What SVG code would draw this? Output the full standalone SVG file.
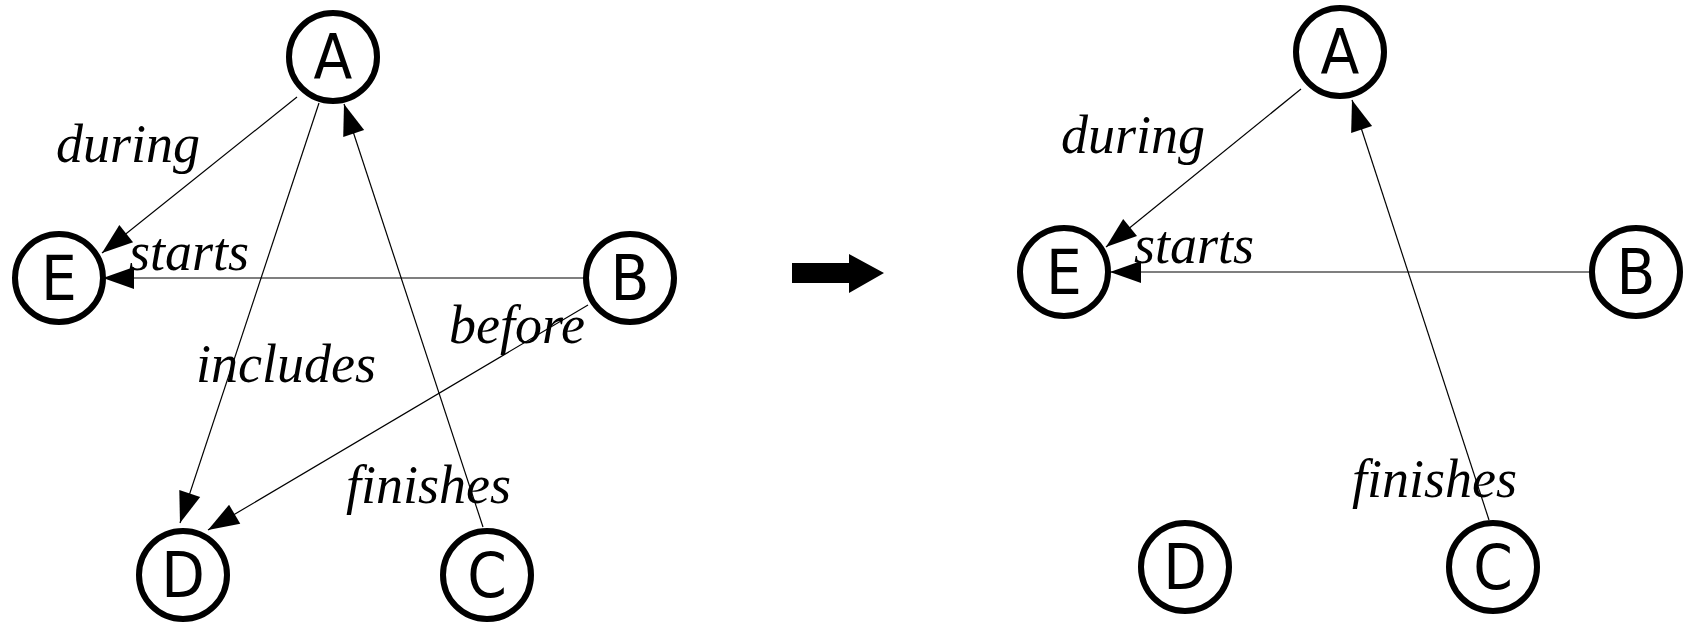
<svg xmlns="http://www.w3.org/2000/svg" width="1690" height="623" viewBox="0 0 1690 623">
<style>
.node circle{fill:#fff;stroke:#000;stroke-width:6}
.node text{font-family:"DejaVu Sans Condensed","DejaVu Sans",sans-serif;font-stretch:condensed;font-size:63px;text-anchor:middle;fill:#000}
.edge{stroke:#000;stroke-width:1.2;fill:none;marker-end:url(#ah)}
.lbl{font-family:"Liberation Serif",serif;font-style:italic;font-size:54px;fill:#000}
</style>
<defs>
<marker id="ah" markerUnits="userSpaceOnUse" markerWidth="34" markerHeight="24" refX="31" refY="11" orient="auto" overflow="visible">
<path d="M0,0 L31,11 L0,22 Z" fill="#000"/>
</marker>
</defs>
<rect width="1690" height="623" fill="#fff"/>
<g id="connectors">
<line class="edge" x1="297" y1="97" x2="102" y2="253"/>
<line class="edge" x1="584" y1="278" x2="103" y2="278"/>
<line class="edge" x1="319" y1="103" x2="180" y2="523"/>
<line class="edge" x1="588" y1="305" x2="208" y2="530"/>
<line class="edge" x1="483" y1="527" x2="344" y2="104"/>
<line class="edge" x1="1301" y1="89" x2="1106" y2="247"/>
<line class="edge" x1="1590" y1="272" x2="1110" y2="272"/>
<line class="edge" x1="1489" y1="520" x2="1352" y2="100"/>
</g>
<g id="labels">
<text class="lbl" x="56" y="162">during</text>
<text class="lbl" x="129" y="270">starts</text>
<text class="lbl" x="196" y="382">includes</text>
<text class="lbl" x="449" y="343">before</text>
<text class="lbl" x="346" y="503">finishes</text>
<text class="lbl" x="1061" y="153">during</text>
<text class="lbl" x="1134" y="263">starts</text>
<text class="lbl" x="1352" y="497">finishes</text>
</g>
<g id="nodeA1" class="node"><circle cx="333" cy="57" r="44"/><text x="333" y="79">A</text></g>
<g id="nodeE1" class="node"><circle cx="59" cy="278" r="44"/><text x="59" y="300">E</text></g>
<g id="nodeB1" class="node"><circle cx="630" cy="278" r="44"/><text x="630" y="300">B</text></g>
<g id="nodeD1" class="node"><circle cx="183" cy="575" r="44"/><text x="183" y="597">D</text></g>
<g id="nodeC1" class="node"><circle cx="487" cy="575" r="44"/><text x="487" y="597">C</text></g>
<g id="transform-arrow"><polygon points="792,263 849,263 849,254 884,273 849,293 849,283 792,283" fill="#000"/></g>
<g id="nodeA2" class="node"><circle cx="1340" cy="52" r="44"/><text x="1340" y="74">A</text></g>
<g id="nodeE2" class="node"><circle cx="1064" cy="272" r="44"/><text x="1064" y="294">E</text></g>
<g id="nodeB2" class="node"><circle cx="1636" cy="272" r="44"/><text x="1636" y="294">B</text></g>
<g id="nodeD2" class="node"><circle cx="1185" cy="567" r="44"/><text x="1185" y="589">D</text></g>
<g id="nodeC2" class="node"><circle cx="1493" cy="567" r="44"/><text x="1493" y="589">C</text></g>
</svg>
